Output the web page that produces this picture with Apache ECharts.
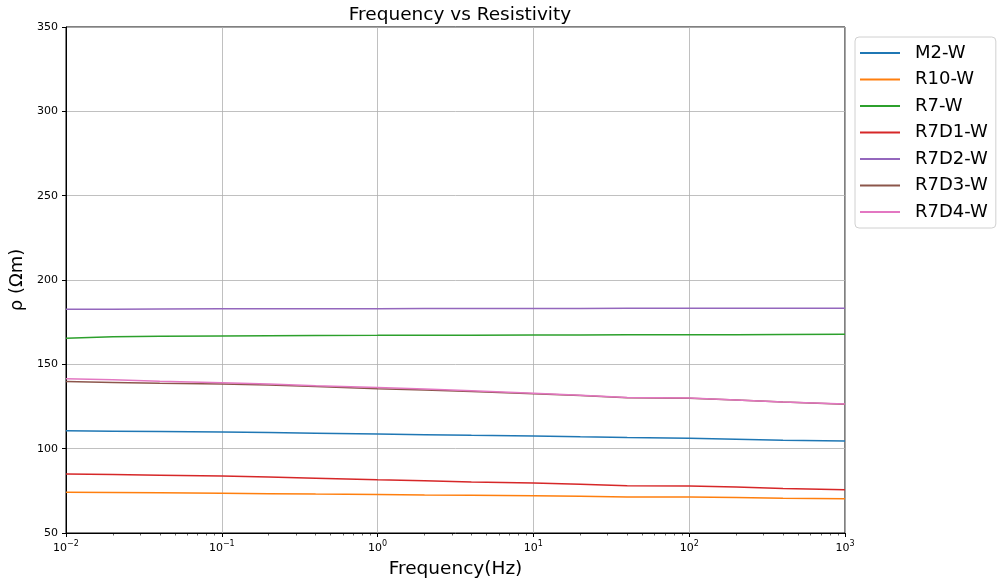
<!DOCTYPE html>
<html>
<head>
<meta charset="utf-8">
<script src="https://cdn.jsdelivr.net/npm/echarts@6/dist/echarts.min.js"></script>
<style>html,body{margin:0;padding:0;background:#fff}#c{width:997px;height:588px}</style>
</head>
<body>
<div id="c"></div>
<script>
const freq = [0.01, 0.02, 0.04, 0.1, 0.2, 0.4, 1, 2, 4, 10, 20, 40, 100, 200, 400, 1000];
const seriesNames = ['M2-W', 'R10-W', 'R7-W', 'R7D1-W', 'R7D2-W', 'R7D3-W', 'R7D4-W'];
const M2_W   = [110.6, 110.4, 110.2, 109.9, 109.6, 109.2, 108.7, 108.3, 107.9, 107.5, 107.0, 106.6, 106.2, 105.6, 105.0, 104.5];
const R10_W  = [74.2, 74.0, 73.8, 73.5, 73.3, 73.1, 72.9, 72.6, 72.4, 72.1, 71.8, 71.4, 71.3, 71.0, 70.6, 70.3];
const R7_W   = [165.4, 166.3, 166.6, 166.8, 167.0, 167.1, 167.2, 167.3, 167.3, 167.4, 167.4, 167.5, 167.5, 167.6, 167.7, 167.8];
const R7D1_W = [85.0, 84.7, 84.3, 83.8, 83.2, 82.5, 81.6, 81.0, 80.3, 79.6, 78.9, 78.0, 77.9, 77.2, 76.4, 75.7];
const R7D2_W = [182.6, 182.7, 182.8, 182.9, 183.0, 183.0, 183.0, 183.1, 183.1, 183.1, 183.1, 183.2, 183.2, 183.2, 183.2, 183.2];
const R7D3_W = [139.8, 139.3, 138.8, 138.3, 137.7, 136.8, 135.5, 134.8, 133.9, 132.6, 131.5, 130.2, 129.9, 128.8, 127.6, 126.4];
const R7D4_W = [141.5, 140.8, 140.0, 139.1, 138.3, 137.3, 136.3, 135.4, 134.3, 132.8, 131.6, 130.3, 130.0, 128.9, 127.7, 126.5];
const xMajorTicks = [0.01, 0.1, 1, 10, 100, 1000];
const yTicks = [50, 100, 150, 200, 250, 300, 350];

const allValues = [M2_W, R10_W, R7_W, R7D1_W, R7D2_W, R7D3_W, R7D4_W];
const colors = ['#1f77b4', '#ff7f0e', '#2ca02c', '#d62728', '#9467bd', '#8c564b', '#e377c2'];

const minorTicks = [];
for (let e = -2; e < 3; e++) {
  for (let m = 2; m <= 9; m++) minorTicks.push(m * Math.pow(10, e));
}

const FONT = 'DejaVu Sans';
const chart = echarts.init(document.getElementById('c'), null, {renderer: 'canvas'});
chart.setOption({
  animation: false,
  color: colors,
  textStyle: {fontFamily: FONT},
  title: {
    text: 'Frequency vs Resistivity',
    left: 455, top: 1, textAlign: 'center',
    textStyle: {fontFamily: FONT, fontSize: 18.5, fontWeight: 'normal', color: '#000'}
  },
  grid: {
    left: 66, right: 152, top: 27, bottom: 55,
    show: true, borderColor: '#000', borderWidth: 1, backgroundColor: 'transparent'
  },
  legend: {
    orient: 'vertical', left: 855, top: 37,
    data: seriesNames,
    icon: 'rect', itemWidth: 40, itemHeight: 2, itemGap: 8.5,
    padding: [7, 8, 7, 5],
    borderColor: '#d0d0d0', borderWidth: 1, borderRadius: 4,
    textStyle: {fontFamily: FONT, fontSize: 18, color: '#000', padding: [0, 0, 0, 10]}
  },
  xAxis: [{
    type: 'log', logBase: 10, min: 0.01, max: 1000,
    name: 'Frequency(Hz)', nameLocation: 'middle', nameGap: 27,
    nameTextStyle: {fontFamily: FONT, fontSize: 18.5, color: '#000'},
    axisLine: {show: true, lineStyle: {color: '#000', width: 1}},
    axisTick: {show: true, customValues: xMajorTicks, length: 4, lineStyle: {color: '#000'}},
    axisLabel: {
      customValues: xMajorTicks,
      color: '#000', margin: 7,
      formatter: function (v) {
        const e = Math.round(Math.log10(v));
        return '{b|10}{s|' + (e < 0 ? '\u2212' + (-e) : e) + '}';
      },
      rich: {
        b: {fontFamily: FONT, fontSize: 11, color: '#000', lineHeight: 14, verticalAlign: 'bottom'},
        s: {fontFamily: FONT, fontSize: 8, color: '#000', lineHeight: 14, verticalAlign: 'top', padding: [0, 0, 6, 0]}
      }
    },
    splitLine: {show: true, lineStyle: {color: '#b0b0b0', width: 0.8}}
  }, {
    type: 'log', logBase: 10, min: 0.01, max: 1000, gridIndex: 0, position: 'bottom',
    axisLine: {show: false},
    axisTick: {show: true, customValues: minorTicks, length: 2.5, lineStyle: {color: '#000', width: 0.6}},
    axisLabel: {show: false},
    splitLine: {show: false}
  }],
  yAxis: {
    type: 'value', min: 50, max: 350, interval: 50,
    name: 'ρ (Ωm)', nameLocation: 'middle', nameGap: 30, nameRotate: 90,
    nameTextStyle: {fontFamily: FONT, fontSize: 18, color: '#000'},
    axisLine: {show: true, lineStyle: {color: '#000', width: 1}},
    axisTick: {show: true, length: 4, lineStyle: {color: '#000'}},
    axisLabel: {color: '#000', fontFamily: FONT, fontSize: 11, margin: 8,
      customValues: yTicks},
    splitLine: {show: true, lineStyle: {color: '#b0b0b0', width: 0.8}}
  },
  series: seriesNames.map((n, i) => ({
    name: n, type: 'line', xAxisIndex: 0,
    data: freq.map((f, j) => [f, allValues[i][j]]),
    symbol: 'none', showSymbol: false,
    lineStyle: {width: 1.5, color: colors[i]},
    itemStyle: {color: colors[i]},
    z: 2 + i
  }))
});
</script>
</body>
</html>
